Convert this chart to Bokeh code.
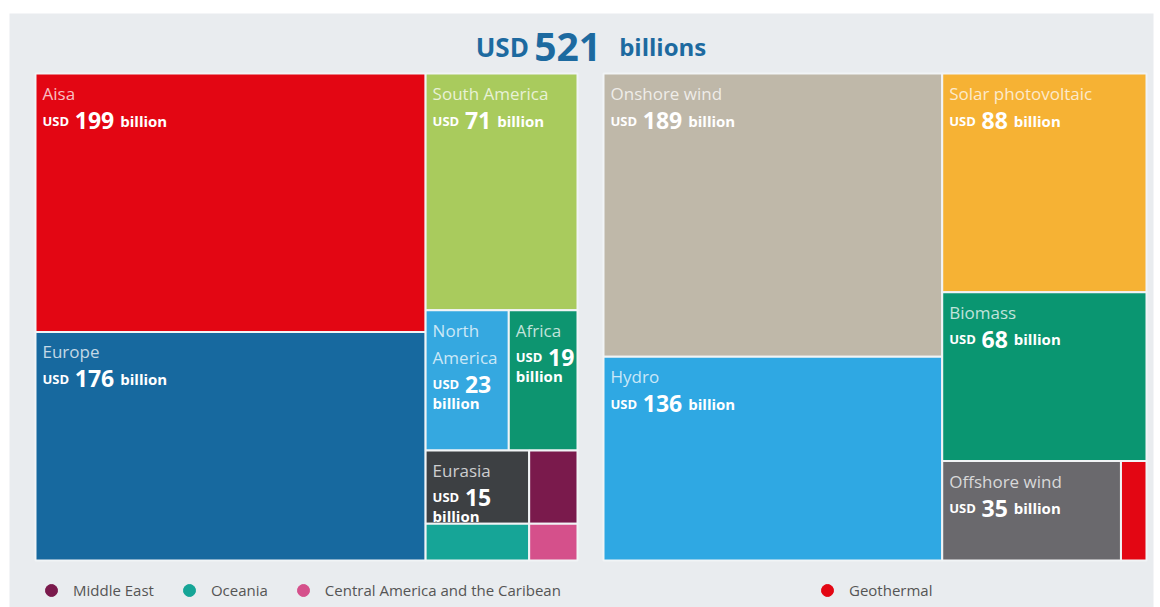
from bokeh.plotting import figure
from bokeh.models import Range1d, Legend, LegendItem, BoxAnnotation, ColumnDataSource
from bokeh.core.properties import value
from bokeh.embed import file_html
from bokeh.resources import INLINE

# Renewable energy investment by region (USD billion)
regions = ["Aisa", "Europe", "South America", "North America", "Africa", "Eurasia",
           "Middle East", "Oceania", "Central America and the Caribean"]
region_values = [199, 176, 71, 23, 19, 15, 7, 7.5, 3.5]
region_colors = ["#e30613", "#17699f", "#a9cb5d", "#35a8e0", "#0d9570", "#3d4043",
                 "#7a1a4c", "#16a597", "#d5508b"]

# Renewable energy investment by technology (USD billion)
technologies = ["Onshore wind", "Hydro", "Solar photovoltaic", "Biomass",
                "Offshore wind", "Geothermal"]
technology_values = [189, 136, 88, 68, 35, 5]
technology_colors = ["#bfb8a9", "#2fa8e3", "#f6b234", "#0a9671", "#6a696d", "#e30613"]

# Slice-and-dice arrangement of each treemap: ("h", ...) splits side by side,
# ("v", ...) stacks top to bottom.
region_tree = ("h", [("v", ["Aisa", "Europe"]),
                     ("v", ["South America",
                            ("h", ["North America", "Africa"]),
                            ("h", [("v", ["Eurasia", "Oceania"]),
                                   ("v", ["Middle East", "Central America and the Caribean"])])])])
technology_tree = ("h", [("v", ["Onshore wind", "Hydro"]),
                         ("v", ["Solar photovoltaic", "Biomass",
                                ("h", ["Offshore wind", "Geothermal"])])])

W, H = 1160, 607
FONT = "Open Sans"
BG = "#e9ecef"
TITLE_BLUE = "#1d6aa0"
LABEL_MIN = 10  # smaller cells are named in the legend instead
NAME_SIZE = 17
USD_SIZE = 13
NUM_SIZE = 23
BIL_SIZE = 15


def node_total(node, vals):
    if isinstance(node, str):
        return vals[node]
    return sum(node_total(c, vals) for c in node[1])


def slice_layout(node, vals, x0, y0, x1, y1, out):
    if isinstance(node, str):
        out[node] = (x0, y0, x1, y1)
        return
    direction, kids = node
    tot = node_total(node, vals)
    pos = x0 if direction == "h" else y0
    for k in kids:
        frac = node_total(k, vals) / tot
        if direction == "h":
            step = (x1 - x0) * frac
            slice_layout(k, vals, pos, y0, pos + step, y1, out)
        else:
            step = (y1 - y0) * frac
            slice_layout(k, vals, x0, pos, x1, pos + step, out)
        pos += step


BOLD_W = {"U": 0.74, "S": 0.56, "D": 0.72, "b": 0.64, "i": 0.30, "l": 0.30,
          "o": 0.62, "n": 0.65, "s": 0.52, " ": 0.26}


def bold_width(s, size):
    return sum(0.572 if ch.isdigit() else BOLD_W.get(ch, 0.6) for ch in s) * size


def fmt(v):
    return str(int(v)) if float(v).is_integer() else str(v)


p = figure(width=W, height=H, x_range=Range1d(0, W), y_range=Range1d(H, 0),
           output_backend="svg", toolbar_location=None, min_border=0,
           background_fill_color="white", border_fill_color="white")
p.axis.visible = False
p.xgrid.visible = False
p.ygrid.visible = False
p.outline_line_color = None

p.add_layout(BoxAnnotation(left=9, right=1153, top=13, bottom=H,
                           fill_color=BG, fill_alpha=1, line_alpha=0, level="underlay"))

panels = [
    (regions, region_values, region_colors, region_tree, (35, 73, 577, 560), (36, 2)),
    (technologies, technology_values, technology_colors, technology_tree, (603, 73, 1146, 560), (812, 2)),
]

names_src = dict(x=[], y=[], text=[])
usd_src = dict(x=[], y=[], text=[])
num_src = dict(x=[], y=[], text=[])
bil_src = dict(x=[], y=[], text=[])

for names, vals_list, colors, tree, box, legend_loc in panels:
    vals = dict(zip(names, vals_list))
    cells = {}
    slice_layout(tree, vals, *box, cells)
    src = ColumnDataSource(dict(
        left=[cells[n][0] for n in names], right=[cells[n][2] for n in names],
        top=[cells[n][1] for n in names], bottom=[cells[n][3] for n in names],
        color=colors))
    p.quad(left="left", right="right", top="top", bottom="bottom", source=src,
           fill_color="color", line_color="#f1f4f6", line_width=2)

    legend_items = []
    for n, v, c in zip(names, vals_list, colors):
        x0, y0, x1, y1 = cells[n]
        if v < LABEL_MIN:
            r = p.scatter(x=[float("nan")], y=[float("nan")], marker="circle",
                          fill_color=c, line_color=c)
            legend_items.append(LegendItem(label=n, renderers=[r]))
            continue
        w = x1 - x0
        tx = x0 + 7
        narrow = w < 120
        name_lines = n.split() if len(n) * 0.54 * NAME_SIZE > w - 12 else [n]
        for i, line in enumerate(name_lines):
            names_src["x"].append(tx)
            names_src["y"].append(y0 + 20 + 27 * i)
            names_src["text"].append(line)
        base = y0 + 20 + 27 * (len(name_lines) - 1) + 27
        usd_src["x"].append(tx); usd_src["y"].append(base); usd_src["text"].append("USD")
        nx = tx + bold_width("USD", USD_SIZE) + 6
        num_src["x"].append(nx); num_src["y"].append(base); num_src["text"].append(fmt(v))
        if narrow:
            bil_src["x"].append(tx); bil_src["y"].append(base + 19)
        else:
            bil_src["x"].append(nx + bold_width(fmt(v), NUM_SIZE) + 6); bil_src["y"].append(base)
        bil_src["text"].append("billion")

    legend = Legend(items=legend_items, orientation="horizontal", location=legend_loc,
                    glyph_width=30, glyph_height=30, label_standoff=7, spacing=20,
                    padding=0, margin=0, background_fill_alpha=0, border_line_alpha=0,
                    label_text_font=FONT, label_text_font_size="15px",
                    label_text_color="#555555")
    p.add_layout(legend)

p.text(x="x", y="y", text="text", source=ColumnDataSource(names_src),
       text_font=value(FONT), text_font_size=f"{NAME_SIZE}px", text_color="white",
       text_alpha=0.75, text_baseline="alphabetic", text_align="left")
p.text(x="x", y="y", text="text", source=ColumnDataSource(usd_src),
       text_font=value(FONT), text_font_size=f"{USD_SIZE}px", text_font_style="bold",
       text_color="white", text_baseline="alphabetic", text_align="left")
p.text(x="x", y="y", text="text", source=ColumnDataSource(num_src),
       text_font=value(FONT), text_font_size=f"{NUM_SIZE}px", text_font_style="bold",
       text_color="white", text_baseline="alphabetic", text_align="left")
p.text(x="x", y="y", text="text", source=ColumnDataSource(bil_src),
       text_font=value(FONT), text_font_size=f"{BIL_SIZE}px", text_font_style="bold",
       text_color="white", text_baseline="alphabetic", text_align="left")

# Headline total
grand_total = fmt(sum(region_values))
t_parts = [("USD", 26, 6), (grand_total, 39, 18), ("billions", 24, 0)]
t_width = sum(bold_width(s, sz) + gap for s, sz, gap in t_parts)
cx = (35 + 1146) / 2
tx = cx - t_width / 2
for s, sz, gap in t_parts:
    p.text(x=[tx], y=[46], text=[s], text_font=value(FONT), text_font_size=f"{sz}px",
           text_font_style="bold", text_color=TITLE_BLUE,
           text_baseline="alphabetic", text_align="left")
    tx += bold_width(s, sz) + gap

open("out.html", "w").write(file_html(p, INLINE))
